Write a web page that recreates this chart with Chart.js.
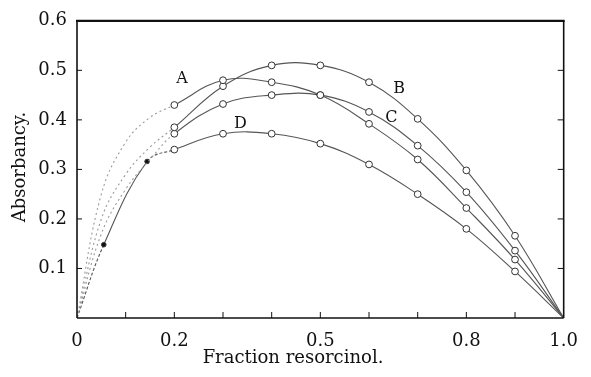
<!DOCTYPE html>
<html>
<head>
<meta charset="utf-8">
<script src="https://cdn.jsdelivr.net/npm/chart.js@4"></script>
<style>
  html, body { margin: 0; padding: 0; background: #fff; }
  #wrap { width: 591px; height: 377px; position: relative; }
</style>
</head>
<body>
<div id="wrap"><canvas id="chart"></canvas></div>
<script>
// ---- data ----
const xTickLabels = [0, 0.2, 0.5, 0.8, 1.0];

const xA = [0, 0.05, 0.1, 0.15, 0.2, 0.3, 0.4, 0.5, 0.6, 0.7, 0.8, 0.9, 1.0];
const yA = [0, 0.25, 0.355, 0.405, 0.43, 0.48, 0.476, 0.45, 0.392, 0.32, 0.222, 0.118, 0];

const xB = [0, 0.05, 0.1, 0.15, 0.2, 0.3, 0.4, 0.5, 0.6, 0.7, 0.8, 0.9, 1.0];
const yB = [0, 0.2, 0.29, 0.345, 0.385, 0.468, 0.51, 0.51, 0.476, 0.402, 0.298, 0.166, 0];

const xC = [0, 0.05, 0.1, 0.15, 0.2, 0.3, 0.4, 0.5, 0.6, 0.7, 0.8, 0.9, 1.0];
const yC = [0, 0.17, 0.26, 0.32, 0.372, 0.432, 0.45, 0.45, 0.416, 0.348, 0.254, 0.136, 0];

const xD = [0, 0.055, 0.144, 0.2, 0.3, 0.4, 0.5, 0.6, 0.7, 0.8, 0.9, 1.0];
const yD = [0, 0.148, 0.316, 0.34, 0.372, 0.372, 0.352, 0.31, 0.25, 0.18, 0.094, 0];

// measured points (open circles) are x = 0.2 ... 0.9
const measured = v => v > 0.19 && v < 0.91;
const dotted = v => v > 0 && v < 0.19;

const SERIF = "'DejaVu Serif', 'Liberation Serif', serif";

// curve letters, placed in data units
const curveNames = ['A', 'B', 'C', 'D'];
const nameX = [0.216, 0.662, 0.646, 0.336];
const nameY = [0.482, 0.462, 0.404, 0.392];

const pts = (xs, ys) => xs.map((x, i) => ({ x, y: ys[i] }));

function series(xs, ys, solidLeft) {
  return {
    data: pts(xs, ys),
    borderColor: '#555',
    borderWidth: 1.1,
    tension: 0.4,
    pointRadius: c => measured(c.raw.x) ? 3.4 : (solidLeft && dotted(c.raw.x) ? 2.3 : 0),
    pointBackgroundColor: c => measured(c.raw.x) ? '#fff' : '#111',
    pointBorderColor: '#333',
    pointBorderWidth: 1,
    segment: {
      borderDash: c => solidLeft
        ? ((c.p1.parsed.x < 0.06 || c.p0.parsed.x > 0.1 && c.p1.parsed.x < 0.21) ? [3, 2] : undefined)
        : (c.p1.parsed.x < 0.21 ? [2, 3] : undefined),
      borderColor: c => (!solidLeft && c.p1.parsed.x < 0.21) ? '#9a9a9a' : undefined
    }
  };
}

const frame = {
  id: 'frame',
  afterDraw(chart) {
    const { ctx, chartArea: a, scales: { x, y } } = chart;
    const line = (x1, y1, x2, y2) => { ctx.beginPath(); ctx.moveTo(x1, y1); ctx.lineTo(x2, y2); ctx.stroke(); };
    ctx.save();
    ctx.strokeStyle = '#111';
    ctx.lineWidth = 2.2; line(a.left - 1, a.top, a.right + 1, a.top);
    ctx.lineWidth = 1.6;
    line(a.left, a.top, a.left, a.bottom);
    line(a.right, a.top, a.right, a.bottom);
    line(a.left, a.bottom, a.right, a.bottom);
    ctx.lineWidth = 1;
    x.ticks.forEach(t => {
      if (t.value <= 0.01 || t.value >= 0.99) return;
      const px = x.getPixelForValue(t.value);
      line(px, a.bottom, px, a.bottom - 6);
    });
    y.ticks.forEach(t => {
      if (t.value <= 0.01 || t.value >= 0.59) return;
      const py = y.getPixelForValue(t.value);
      line(a.left, py, a.left + 5, py);
      line(a.right - 6, py, a.right, py);
    });

    ctx.fillStyle = '#111';
    ctx.textAlign = 'center';
    ctx.textBaseline = 'middle';
    ctx.font = `16px ${SERIF}`;
    curveNames.forEach((n, i) => ctx.fillText(n, x.getPixelForValue(nameX[i]), y.getPixelForValue(nameY[i])));

    ctx.font = `18px ${SERIF}`;
    ctx.fillText('Fraction resorcinol.', 293, 358);
    ctx.translate(20, 167);
    ctx.rotate(-Math.PI / 2);
    ctx.fillText('Absorbancy.', 0, 0);
    ctx.restore();
  }
};

new Chart(document.getElementById('chart'), {
  type: 'line',
  data: {
    datasets: [
      series(xA, yA, false),
      series(xB, yB, false),
      series(xC, yC, false),
      series(xD, yD, true)
    ]
  },
  options: {
    responsive: true,
    maintainAspectRatio: false,
    devicePixelRatio: 1,
    animation: false,
    layout: { padding: { top: 18, right: 16, left: 0, bottom: 0 } },
    plugins: { legend: { display: false }, tooltip: { enabled: false } },
    scales: {
      x: {
        type: 'linear', min: 0, max: 1,
        grid: { display: false, drawTicks: false },
        border: { display: false },
        afterFit: s => { s.height = 59; },
        ticks: {
          stepSize: 0.1, autoSkip: false, maxRotation: 0, padding: 13,
          color: '#111', font: { family: SERIF, size: 18 },
          callback: v => xTickLabels.some(l => Math.abs(l - v) < 1e-6) ? (v === 0 ? '0' : v.toFixed(1)) : ''
        }
      },
      y: {
        type: 'linear', min: 0, max: 0.6,
        grid: { display: false, drawTicks: false },
        border: { display: false },
        afterFit: s => { s.width = 77; },
        ticks: {
          stepSize: 0.1, padding: 10,
          color: '#111', font: { family: SERIF, size: 18 },
          callback: v => v < 0.01 ? '' : v.toFixed(1)
        }
      }
    }
  },
  plugins: [frame]
});
</script>
</body>
</html>
